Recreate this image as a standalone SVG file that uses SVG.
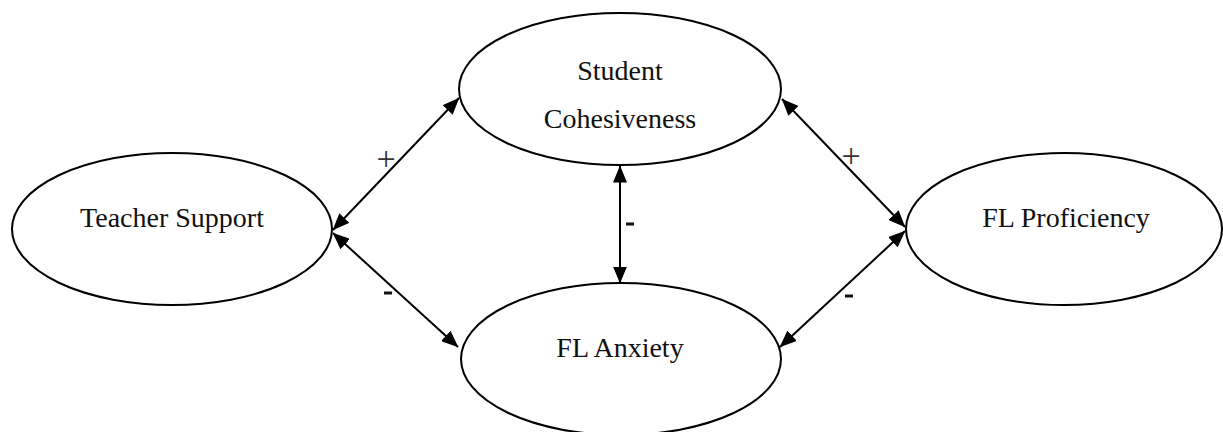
<svg xmlns="http://www.w3.org/2000/svg" width="1223" height="432" viewBox="0 0 1223 432">
<style>
.node{fill:#fff;stroke:#000;stroke-width:2}
.lbl{font-family:"Liberation Serif","Times New Roman",serif;font-size:28px;fill:#111;text-anchor:middle}
.conn{stroke:#000;stroke-width:2;fill:none;marker-start:url(#ah);marker-end:url(#ah)}
.plus{font-family:"Liberation Serif","Times New Roman",serif;font-size:34px;fill:#333;text-anchor:middle}
.minus{fill:#111}
</style>
<defs>
<marker id="ah" viewBox="0 0 17 14" refX="16.5" refY="7" markerWidth="17" markerHeight="14" markerUnits="userSpaceOnUse" orient="auto-start-reverse">
<path d="M0,0 L17,7 L0,14 Z" fill="#000"/>
</marker>
</defs>
<rect width="1223" height="432" fill="#fff"/>
<g id="teacher-support">
<ellipse class="node" cx="172" cy="229" rx="160" ry="76"/>
<text class="lbl" x="172" y="227">Teacher Support</text>
</g>
<g id="student-cohesiveness">
<ellipse class="node" cx="620" cy="89" rx="161" ry="76"/>
<text class="lbl" x="620" y="80">Student</text>
<text class="lbl" x="620" y="128">Cohesiveness</text>
</g>
<g id="fl-anxiety">
<ellipse class="node" cx="621" cy="359" rx="160" ry="76"/>
<text class="lbl" x="620" y="357">FL Anxiety</text>
</g>
<g id="fl-proficiency">
<ellipse class="node" cx="1064" cy="229" rx="158" ry="76"/>
<text class="lbl" x="1066" y="227">FL Proficiency</text>
</g>
<g id="connectors">
<line class="conn" x1="333" y1="230" x2="459" y2="98"/>
<line class="conn" x1="333" y1="233" x2="458" y2="347"/>
<line class="conn" x1="620" y1="166" x2="620" y2="283"/>
<line class="conn" x1="782" y1="99" x2="905" y2="227"/>
<line class="conn" x1="780" y1="347" x2="905" y2="231"/>
<text class="plus" x="386" y="170">+</text>
<text class="plus" x="851" y="167">+</text>
<rect class="minus" x="384" y="291.5" width="8" height="3"/>
<rect class="minus" x="626" y="222.5" width="8" height="3"/>
<rect class="minus" x="845" y="294.5" width="8" height="3"/>
</g>
</svg>
